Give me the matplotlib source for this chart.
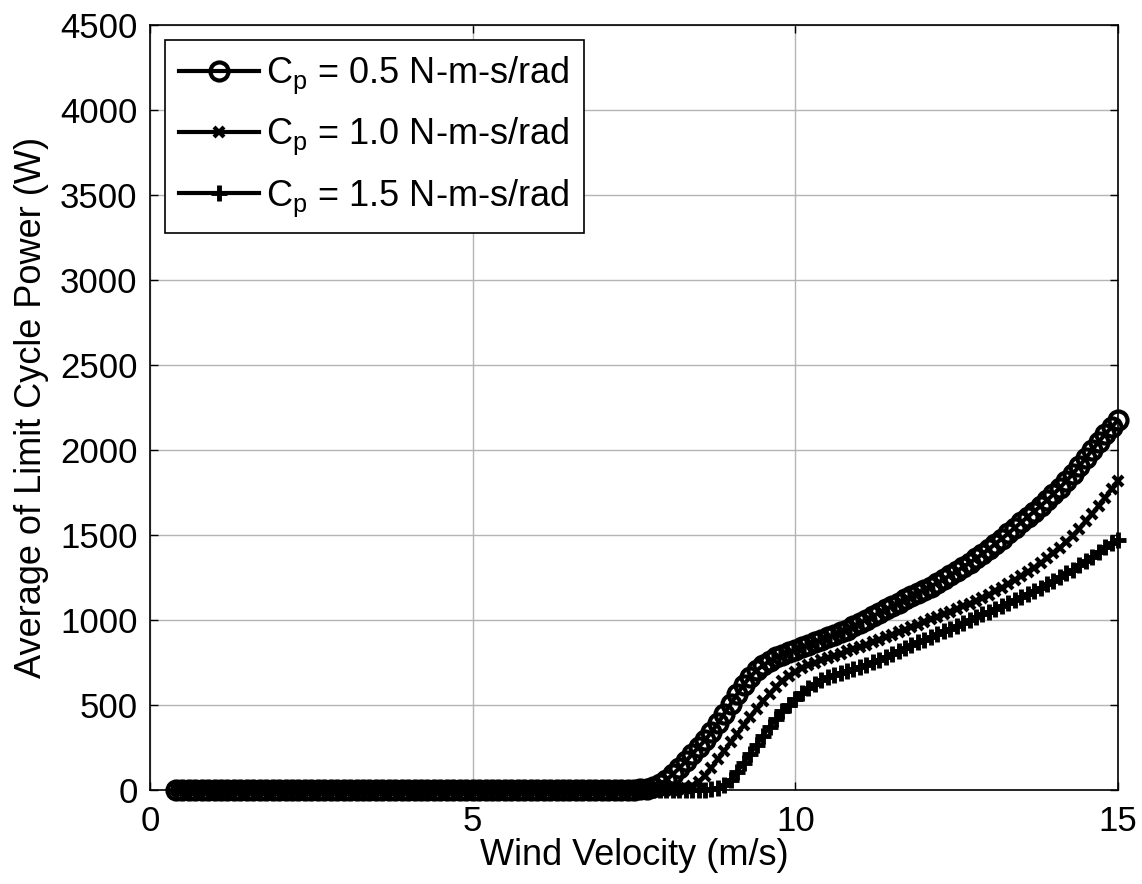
import numpy as np
import matplotlib
matplotlib.use("Agg")
import matplotlib.pyplot as plt

plt.rcParams["font.family"] = ["Liberation Sans", "DejaVu Sans"]
plt.rcParams["mathtext.fontset"] = "custom"
plt.rcParams["mathtext.rm"] = "Liberation Sans"
plt.rcParams["mathtext.it"] = "Liberation Sans"

# Wind velocity sweep (m/s)
wind_velocity = np.round(np.arange(0.4, 15.0001, 0.1), 1)

# Average limit-cycle power (W) for each damping coefficient
power_cp05 = [0.0] * 72 + [
    3, 8, 18, 35, 58, 92, 128, 168, 210, 252,
    292, 340, 392, 450, 508, 565, 620, 665, 703, 733,
    758, 780, 797, 812, 825, 840, 855, 870, 885, 900,
    913, 927, 942, 962, 982, 1002, 1022, 1042, 1062, 1082,
    1102, 1122, 1141, 1160, 1179, 1197, 1217, 1240, 1263, 1287,
    1311, 1336, 1362, 1388, 1418, 1448, 1478, 1510, 1542, 1574,
    1606, 1638, 1670, 1704, 1740, 1778, 1818, 1860, 1905, 1952,
    2000, 2048, 2092, 2135, 2175,
]
power_cp10 = [0.0] * 78 + [
    3, 10, 25, 50, 85, 130, 180, 230, 280, 330,
    380, 430, 478, 522, 565, 605, 640, 670, 695, 715,
    733, 750, 765, 778, 790, 802, 815, 828, 841, 855,
    869, 883, 898, 913, 928, 943, 958, 973, 988, 1003,
    1018, 1033, 1048, 1064, 1080, 1097, 1114, 1132, 1150, 1170,
    1190, 1212, 1235, 1258, 1282, 1307, 1333, 1362, 1393, 1425,
    1460, 1497, 1537, 1580, 1625, 1672, 1720, 1770, 1815,
]
power_cp15 = [0.0] * 83 + [
    3, 12, 30, 60, 108, 160, 212, 266, 320, 372,
    420, 462, 500, 535, 568, 598, 625, 647, 664, 678,
    690, 701, 712, 725, 738, 752, 767, 783, 800, 817,
    834, 851, 868, 885, 901, 917, 933, 949, 965, 982,
    999, 1016, 1033, 1050, 1067, 1084, 1101, 1118, 1136, 1154,
    1172, 1191, 1210, 1230, 1252, 1274, 1297, 1321, 1346, 1372,
    1399, 1427, 1452, 1470,
]

series_labels = [
    r"$\mathrm{C_p}$ = 0.5 N-m-s/rad",
    r"$\mathrm{C_p}$ = 1.0 N-m-s/rad",
    r"$\mathrm{C_p}$ = 1.5 N-m-s/rad",
]
x_ticks = [0, 5, 10, 15]
y_ticks = list(range(0, 4501, 500))

fig = plt.figure(figsize=(11.42, 8.84), dpi=100)
ax = fig.add_axes([150 / 1142, 94 / 884, 968 / 1142, 765 / 884])

ax.plot(wind_velocity, power_cp05, color="black", lw=3, marker="o",
        ms=13, mfc="none", mew=3, clip_on=False, label=series_labels[0])
ax.plot(wind_velocity, power_cp10, color="black", lw=3, marker="x",
        ms=7, mew=3, clip_on=False, label=series_labels[1])
ax.plot(wind_velocity, power_cp15, color="black", lw=3, marker="+",
        ms=11, mew=3.5, clip_on=False, label=series_labels[2])

ax.set_xlim(0, 15)
ax.set_ylim(0, 4500)
ax.set_xticks(x_ticks)
ax.set_yticks(y_ticks)
ax.grid(True, color="#b4b4b4", lw=1)
ax.set_axisbelow(True)
ax.tick_params(direction="in", top=True, right=True, length=6, width=1,
               labelsize=25, colors="black")
ax.tick_params(axis="x", pad=11)
ax.tick_params(axis="y", pad=9)
for s in ax.spines.values():
    s.set_linewidth(1.2)
    s.set_color("black")

ax.set_xlabel("Wind Velocity (m/s)", fontsize=26, labelpad=0)
ax.set_ylabel("Average of Limit Cycle Power (W)", fontsize=26, labelpad=8)

leg = ax.legend(loc="upper left", bbox_to_anchor=(0.0155, 0.980),
                borderaxespad=0, fontsize=26, fancybox=False, framealpha=1,
                edgecolor="black", handlelength=2.2, handletextpad=0.2,
                labelspacing=0.55, borderpad=0.4, numpoints=1)
leg.get_frame().set_linewidth(1.2)

fig.savefig("out.png", dpi=100, facecolor="white")
